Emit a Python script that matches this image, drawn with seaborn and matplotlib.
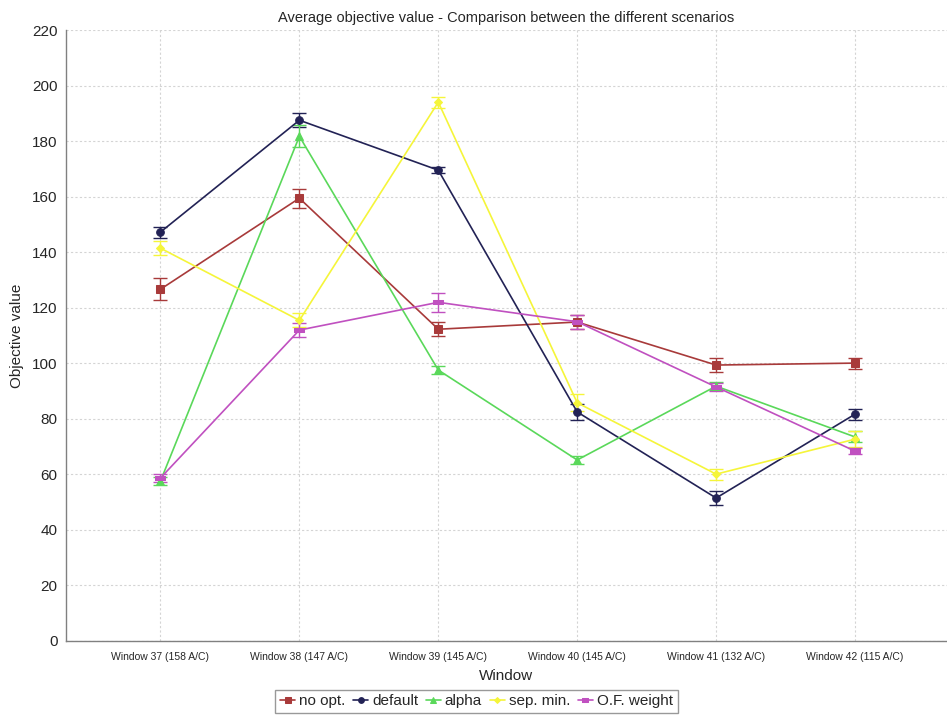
# %%
# ===  Load modules ===
import numpy as np
import pandas as pd
import seaborn as sns
import matplotlib
matplotlib.use('Agg')
import matplotlib.pyplot as plt

# %%
# === Data ===
WINDOWS   = ['Window 37 (158 A/C)', 'Window 38 (147 A/C)', 'Window 39 (145 A/C)',
             'Window 40 (145 A/C)', 'Window 41 (132 A/C)', 'Window 42 (115 A/C)']
SCENARIOS = ['no opt.', 'default', 'alpha', 'sep. min.', 'O.F. weight']

no_opt      = [126.7, 159.5, 112.3, 114.9, 99.4, 100.1]
no_opt_err  = [4.0, 3.5, 2.5, 2.5, 2.5, 2.0]
default     = [147.3, 187.6, 169.6, 82.5, 51.5, 81.7]
default_err = [2.0, 2.5, 1.0, 2.8, 2.5, 2.0]
alpha       = [57.6, 181.8, 97.6, 65.2, 91.8, 73.5]
alpha_err   = [1.5, 4.0, 1.5, 1.5, 1.5, 2.0]
sep_min     = [141.5, 115.5, 194.1, 85.8, 60.1, 72.7]
sep_min_err = [2.5, 2.5, 2.0, 3.0, 2.0, 3.0]
of_weight     = [58.7, 112.0, 122.0, 115.0, 91.5, 68.4]
of_weight_err = [1.5, 2.5, 3.5, 2.5, 1.5, 1.0]

# === Styles ===
COLORS  = {'no opt.': '#a83a3a', 'default': '#222255', 'alpha': '#5ad85a',
           'sep. min.': '#f5f53a', 'O.F. weight': '#c050c0'}
HRECT   = [(-1, -0.5), (1, -0.5), (1, 0.5), (-1, 0.5), (-1, -0.5)]
MARKERS = {'no opt.': 's', 'default': 'o', 'alpha': '^',
           'sep. min.': 'D', 'O.F. weight': HRECT}
MSIZE   = {'no opt.': 5.5, 'default': 5.5, 'alpha': 5.5, 'sep. min.': 4, 'O.F. weight': 6.5}

# long-form table for seaborn
values = [no_opt, default, alpha, sep_min, of_weight]
errors = [no_opt_err, default_err, alpha_err, sep_min_err, of_weight_err]
rows = []
for s, v, e in zip(SCENARIOS, values, errors):
    for i, w in enumerate(WINDOWS):
        rows.append({'scenario': s, 'window': w, 'pos': i, 'value': v[i], 'err': e[i]})
df = pd.DataFrame(rows)

# %%
# === Plot ===
sns.set_style('white')
plt.rcParams['font.family'] = ['Liberation Sans', 'DejaVu Sans']

fig = plt.figure(figsize=(9.47, 7.21), dpi=100)
ax = fig.add_axes([0.0697, 0.111, 0.93, 0.847])

for s in SCENARIOS:
    sub = df[df['scenario'] == s]
    ax.errorbar(sub['pos'], sub['value'], yerr=sub['err'], fmt='none',
                ecolor=COLORS[s], elinewidth=1.0, capsize=5, capthick=1.0, zorder=2)
    sns.lineplot(data=sub, x='pos', y='value', color=COLORS[s], marker=MARKERS[s],
                 markersize=MSIZE[s], markeredgecolor=COLORS[s], linewidth=1.2,
                 label=s, ax=ax, zorder=3)

ax.set_xlim(-0.68, 5.66)
ax.set_ylim(0, 220)
ax.set_yticks(np.arange(0, 221, 20))
ax.set_xticks(range(len(WINDOWS)))
ax.set_xticklabels(WINDOWS, fontsize=7.5)
ax.tick_params(axis='y', labelsize=11, length=4, color='#808080', pad=2)
ax.tick_params(axis='x', length=3, color='#808080', pad=5)

ax.grid(True, color='#d4d4d4', linestyle=(0, (2, 2)), linewidth=0.8)
ax.set_axisbelow(True)
for side in ['top', 'right']:
    ax.spines[side].set_visible(False)
for side in ['left', 'bottom']:
    ax.spines[side].set_color('#808080')
    ax.spines[side].set_linewidth(1.0)

ax.set_title('Average objective value - Comparison between the different scenarios',
             fontsize=10.5, pad=6)
ax.set_xlabel('Window', fontsize=11, labelpad=5)
ax.set_ylabel('Objective value', fontsize=11, labelpad=6)

ax.legend(loc='upper center', bbox_to_anchor=(0.466, -0.08), ncol=5, fontsize=11,
          frameon=True, fancybox=False, edgecolor='#808080', handlelength=1.0,
          markerscale=0.75, handletextpad=0.25, columnspacing=0.5,
          borderpad=0.3, borderaxespad=0)

fig.savefig('out.png', dpi=100)
